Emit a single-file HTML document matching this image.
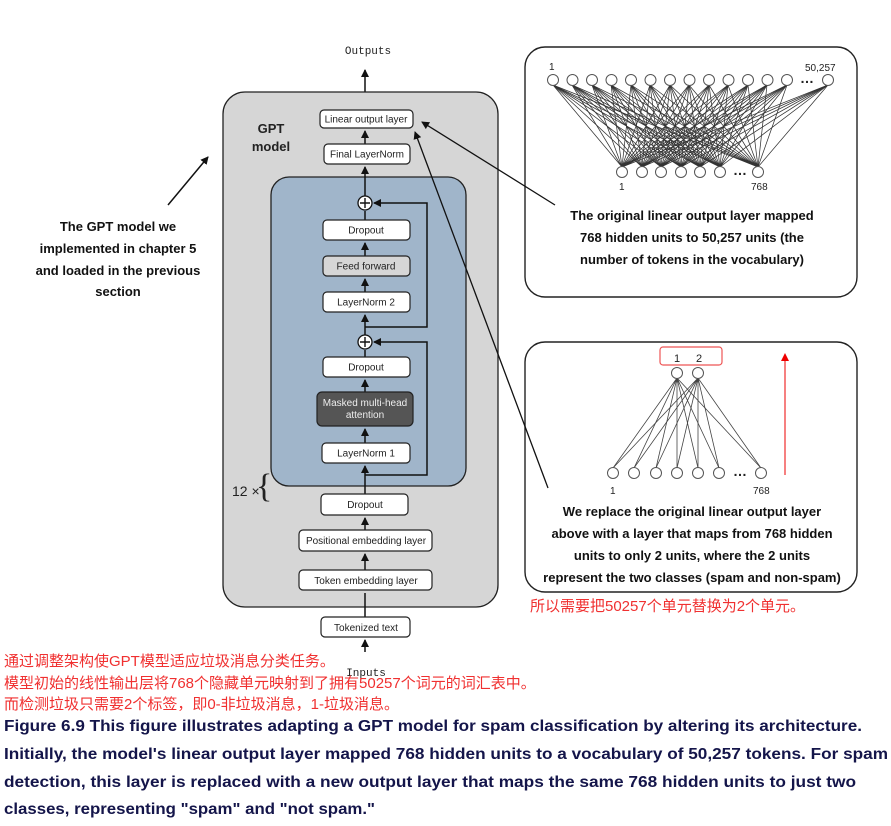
<!DOCTYPE html>
<html><head><meta charset="utf-8"><style>
html,body{margin:0;padding:0;background:#fff;}
svg{display:block;}
.b{font-family:"Liberation Sans",sans-serif;font-size:10px;fill:#222;text-anchor:middle;}
.bx{fill:#fff;stroke:#222;stroke-width:1.2;}
.t{font-family:"Liberation Sans",sans-serif;font-weight:bold;font-size:13px;fill:#111;text-anchor:middle;}
.r{font-family:"Liberation Sans","Noto Sans CJK SC",sans-serif;font-size:15px;fill:#f03030;}
.c{font-family:"Liberation Sans",sans-serif;font-weight:bold;font-size:16px;fill:#14154a;}
.n{fill:#fff;stroke:#555;stroke-width:1;}
</style></head><body>
<svg width="891" height="826" viewBox="0 0 891 826" xmlns="http://www.w3.org/2000/svg">
<defs><marker id="a" markerWidth="8" markerHeight="8" refX="7" refY="4" orient="auto" markerUnits="userSpaceOnUse"><path d="M0 0L8 4L0 8z" fill="#111"/></marker>
<marker id="ar" markerWidth="8" markerHeight="8" refX="7" refY="4" orient="auto" markerUnits="userSpaceOnUse"><path d="M0 0L8 4L0 8z" fill="#e00"/></marker></defs>

<text x="368" y="54" font-family="Liberation Mono,monospace" font-size="11" text-anchor="middle" fill="#222">Outputs</text>
<line x1="365" y1="108" x2="365" y2="70" stroke="#111" stroke-width="1.5" marker-end="url(#a)"/>

<rect x="223" y="92" width="275" height="515" rx="22" fill="#d6d6d6" stroke="#222" stroke-width="1.3"/>
<text x="271" y="133" font-family="Liberation Sans,sans-serif" font-weight="bold" font-size="13" text-anchor="middle" fill="#222">GPT</text>
<text x="271" y="151" font-family="Liberation Sans,sans-serif" font-weight="bold" font-size="13" text-anchor="middle" fill="#222">model</text>
<rect x="271" y="177" width="195" height="309" rx="18" fill="#a0b5ca" stroke="#222" stroke-width="1.3"/>

<g stroke="#111" stroke-width="1.5" fill="none">
<line x1="365" y1="144" x2="365" y2="131" marker-end="url(#a)"/>
<line x1="365" y1="196" x2="365" y2="167" marker-end="url(#a)"/>
<line x1="365" y1="220" x2="365" y2="211"/>
<line x1="365" y1="256" x2="365" y2="243" marker-end="url(#a)"/>
<line x1="365" y1="292" x2="365" y2="279" marker-end="url(#a)"/>
<line x1="365" y1="335" x2="365" y2="315" marker-end="url(#a)"/>
<polyline points="365,327 427,327 427,203 374,203" marker-end="url(#a)"/>
<line x1="365" y1="357" x2="365" y2="350"/>
<line x1="365" y1="392" x2="365" y2="380" marker-end="url(#a)"/>
<line x1="365" y1="443" x2="365" y2="429" marker-end="url(#a)"/>
<line x1="365" y1="494" x2="365" y2="466" marker-end="url(#a)"/>
<polyline points="365,475 427,475 427,342 374,342" marker-end="url(#a)"/>
<line x1="365" y1="530" x2="365" y2="518" marker-end="url(#a)"/>
<line x1="365" y1="570" x2="365" y2="554" marker-end="url(#a)"/>
<line x1="365" y1="617" x2="365" y2="593"/>
<line x1="365" y1="652" x2="365" y2="640" marker-end="url(#a)"/>
</g>
<g>
<circle cx="365" cy="203" r="7" fill="#fff" stroke="#111" stroke-width="1.3"/><path d="M360 203h10M365 198v10" stroke="#111" stroke-width="1.4"/>
<circle cx="365" cy="342" r="7" fill="#fff" stroke="#111" stroke-width="1.3"/><path d="M360 342h10M365 337v10" stroke="#111" stroke-width="1.4"/>
</g>

<rect class="bx" x="320" y="110" width="93" height="18" rx="4"/><text class="b" x="366" y="122.5">Linear output layer</text>
<rect class="bx" x="324" y="144" width="86" height="20" rx="4"/><text class="b" x="367" y="157.5">Final LayerNorm</text>
<rect class="bx" x="323" y="220" width="87" height="20" rx="4"/><text class="b" x="366" y="233.5">Dropout</text>
<rect class="bx" x="323" y="256" width="87" height="20" rx="4" style="fill:#d6d6d6"/><text class="b" x="366" y="269.5">Feed forward</text>
<rect class="bx" x="323" y="292" width="87" height="20" rx="4"/><text class="b" x="366" y="305.5">LayerNorm 2</text>
<rect class="bx" x="323" y="357" width="87" height="20" rx="4"/><text class="b" x="366" y="370.5">Dropout</text>
<rect x="317" y="392" width="96" height="34" rx="5" fill="#555" stroke="#222" stroke-width="1.2"/>
<text class="b" x="365" y="406" style="fill:#eee">Masked multi-head</text><text class="b" x="365" y="418" style="fill:#eee">attention</text>
<rect class="bx" x="322" y="443" width="88" height="20" rx="4"/><text class="b" x="366" y="456.5">LayerNorm 1</text>
<rect class="bx" x="321" y="494" width="87" height="21" rx="4"/><text class="b" x="365" y="508">Dropout</text>
<rect class="bx" x="299" y="530" width="133" height="21" rx="4"/><text class="b" x="366" y="544">Positional embedding layer</text>
<rect class="bx" x="299" y="570" width="133" height="20" rx="4"/><text class="b" x="366" y="584">Token embedding layer</text>
<rect class="bx" x="321" y="617" width="89" height="20" rx="4"/><text class="b" x="366" y="631">Tokenized text</text>
<text x="366" y="676" font-family="Liberation Mono,monospace" font-size="11" text-anchor="middle" fill="#222">Inputs</text>

<text x="232" y="496" font-family="Liberation Sans,sans-serif" font-size="14" fill="#222">12 ×</text>
<text x="256" y="497" font-family="Liberation Serif,serif" font-size="34" fill="#222">{</text>

<line x1="168" y1="205" x2="208" y2="157" stroke="#111" stroke-width="1.5" marker-end="url(#a)"/>
<text class="t" x="118" y="231">The GPT model we</text>
<text class="t" x="118" y="253">implemented in chapter 5</text>
<text class="t" x="118" y="275">and loaded in the previous</text>
<text class="t" x="118" y="296">section</text>

<rect x="525" y="47" width="332" height="250" rx="20" fill="#fff" stroke="#222" stroke-width="1.4"/>
<g stroke="#333" stroke-width="0.75" fill="none">
<path d="M622 167L553 85L622 167L572 85L622 167L592 85L622 167L611 85L622 167L631 85L622 167L650 85L622 167L670 85L622 167L689 85L622 167L709 85L622 167L728 85L622 167L748 85L622 167L767 85L622 167L787 85L622 167L828 85"/>
<path d="M642 167L553 85L642 167L572 85L642 167L592 85L642 167L611 85L642 167L631 85L642 167L650 85L642 167L670 85L642 167L689 85L642 167L709 85L642 167L728 85L642 167L748 85L642 167L767 85L642 167L787 85L642 167L828 85"/>
<path d="M661 167L553 85L661 167L572 85L661 167L592 85L661 167L611 85L661 167L631 85L661 167L650 85L661 167L670 85L661 167L689 85L661 167L709 85L661 167L728 85L661 167L748 85L661 167L767 85L661 167L787 85L661 167L828 85"/>
<path d="M681 167L553 85L681 167L572 85L681 167L592 85L681 167L611 85L681 167L631 85L681 167L650 85L681 167L670 85L681 167L689 85L681 167L709 85L681 167L728 85L681 167L748 85L681 167L767 85L681 167L787 85L681 167L828 85"/>
<path d="M700 167L553 85L700 167L572 85L700 167L592 85L700 167L611 85L700 167L631 85L700 167L650 85L700 167L670 85L700 167L689 85L700 167L709 85L700 167L728 85L700 167L748 85L700 167L767 85L700 167L787 85L700 167L828 85"/>
<path d="M720 167L553 85L720 167L572 85L720 167L592 85L720 167L611 85L720 167L631 85L720 167L650 85L720 167L670 85L720 167L689 85L720 167L709 85L720 167L728 85L720 167L748 85L720 167L767 85L720 167L787 85L720 167L828 85"/>
<path d="M758 167L553 85L758 167L572 85L758 167L592 85L758 167L611 85L758 167L631 85L758 167L650 85L758 167L670 85L758 167L689 85L758 167L709 85L758 167L728 85L758 167L748 85L758 167L767 85L758 167L787 85L758 167L828 85"/>
</g>
<g>
<circle class="n" cx="553" cy="80" r="5.5"/><circle class="n" cx="572.5" cy="80" r="5.5"/><circle class="n" cx="592" cy="80" r="5.5"/><circle class="n" cx="611.5" cy="80" r="5.5"/><circle class="n" cx="631" cy="80" r="5.5"/><circle class="n" cx="650.5" cy="80" r="5.5"/><circle class="n" cx="670" cy="80" r="5.5"/><circle class="n" cx="689.5" cy="80" r="5.5"/><circle class="n" cx="709" cy="80" r="5.5"/><circle class="n" cx="728.5" cy="80" r="5.5"/><circle class="n" cx="748" cy="80" r="5.5"/><circle class="n" cx="767.5" cy="80" r="5.5"/><circle class="n" cx="787" cy="80" r="5.5"/><circle class="n" cx="828" cy="80" r="5.5"/>
<circle class="n" cx="622" cy="172" r="5.5"/><circle class="n" cx="642" cy="172" r="5.5"/><circle class="n" cx="661" cy="172" r="5.5"/><circle class="n" cx="681" cy="172" r="5.5"/><circle class="n" cx="700" cy="172" r="5.5"/><circle class="n" cx="720" cy="172" r="5.5"/><circle class="n" cx="758" cy="172" r="5.5"/>
</g>
<text x="800" y="83" font-family="Liberation Sans,sans-serif" font-size="14" font-weight="bold" fill="#222">…</text>
<text x="733" y="175" font-family="Liberation Sans,sans-serif" font-size="14" font-weight="bold" fill="#222">…</text>
<text x="549" y="70" font-family="Liberation Sans,sans-serif" font-size="10" fill="#222">1</text>
<text x="805" y="71" font-family="Liberation Sans,sans-serif" font-size="10" fill="#222">50,257</text>
<text x="619" y="190" font-family="Liberation Sans,sans-serif" font-size="10" fill="#222">1</text>
<text x="751" y="190" font-family="Liberation Sans,sans-serif" font-size="10" fill="#222">768</text>
<text class="t" x="692" y="220">The original linear output layer mapped</text>
<text class="t" x="692" y="242">768 hidden units to 50,257 units (the</text>
<text class="t" x="692" y="264">number of tokens in the vocabulary)</text>

<rect x="525" y="342" width="332" height="250" rx="20" fill="#fff" stroke="#222" stroke-width="1.4"/>
<rect x="660" y="347" width="62" height="18" rx="3" fill="none" stroke="#e55" stroke-width="1.2"/>
<text x="674" y="362" font-family="Liberation Sans,sans-serif" font-size="11" fill="#222">1</text>
<text x="696" y="362" font-family="Liberation Sans,sans-serif" font-size="11" fill="#222">2</text>
<g stroke="#444" stroke-width="0.8" fill="none">
<path d="M677 378L613 468M677 378L634 468M677 378L656 468M677 378L677 468M677 378L698 468M677 378L719 468M677 378L761 468"/>
<path d="M698 378L613 468M698 378L634 468M698 378L656 468M698 378L677 468M698 378L698 468M698 378L719 468M698 378L761 468"/>
</g>
<g>
<circle class="n" cx="677" cy="373" r="5.5"/><circle class="n" cx="698" cy="373" r="5.5"/>
<circle class="n" cx="613" cy="473" r="5.5"/><circle class="n" cx="634" cy="473" r="5.5"/><circle class="n" cx="656" cy="473" r="5.5"/><circle class="n" cx="677" cy="473" r="5.5"/><circle class="n" cx="698" cy="473" r="5.5"/><circle class="n" cx="719" cy="473" r="5.5"/><circle class="n" cx="761" cy="473" r="5.5"/>
</g>
<text x="733" y="476" font-family="Liberation Sans,sans-serif" font-size="14" font-weight="bold" fill="#222">…</text>
<text x="610" y="494" font-family="Liberation Sans,sans-serif" font-size="10" fill="#222">1</text>
<text x="753" y="494" font-family="Liberation Sans,sans-serif" font-size="10" fill="#222">768</text>
<text class="t" x="692" y="516">We replace the original linear output layer</text>
<text class="t" x="692" y="538">above with a layer that maps from 768 hidden</text>
<text class="t" x="692" y="560">units to only 2 units, where the 2 units</text>
<text class="t" x="692" y="582">represent the two classes (spam and non-spam)</text>
<line x1="785" y1="475" x2="785" y2="354" stroke="#e00" stroke-width="1" marker-end="url(#ar)"/>
<text class="r" x="530" y="611">所以需要把50257个单元替换为2个单元。</text>

<line x1="555" y1="205" x2="422" y2="122" stroke="#111" stroke-width="1.3" marker-end="url(#a)"/>
<line x1="548" y1="488" x2="415" y2="132" stroke="#111" stroke-width="1.3" marker-end="url(#a)"/>

<text class="r" x="4" y="666">通过调整架构使GPT模型适应垃圾消息分类任务。</text>
<text class="r" x="4" y="688">模型初始的线性输出层将768个隐藏单元映射到了拥有50257个词元的词汇表中。</text>
<text class="r" x="4" y="709">而检测垃圾只需要2个标签，即0-非垃圾消息，1-垃圾消息。</text>
<text class="c" x="4" y="731" textLength="858" lengthAdjust="spacingAndGlyphs">Figure 6.9 This figure illustrates adapting a GPT model for spam classification by altering its architecture.</text>
<text class="c" x="4" y="759" textLength="884" lengthAdjust="spacingAndGlyphs">Initially, the model's linear output layer mapped 768 hidden units to a vocabulary of 50,257 tokens. For spam</text>
<text class="c" x="4" y="787" textLength="852" lengthAdjust="spacingAndGlyphs">detection, this layer is replaced with a new output layer that maps the same 768 hidden units to just two</text>
<text class="c" x="4" y="814" textLength="371" lengthAdjust="spacingAndGlyphs">classes, representing "spam" and "not spam."</text>
</svg>
</body></html>
